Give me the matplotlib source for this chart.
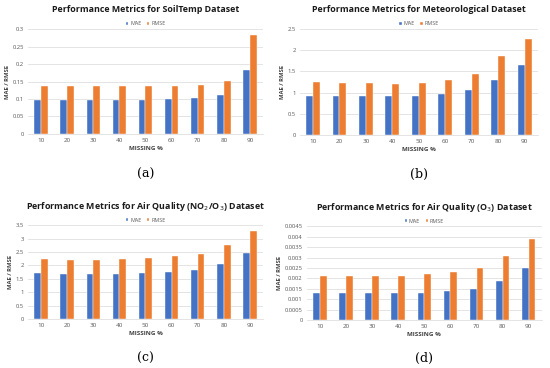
import matplotlib.pyplot as plt
import numpy as np

missing = ["10", "20", "30", "40", "50", "60", "70", "80", "90"]

soil_mae = [0.096, 0.096, 0.096, 0.097, 0.097, 0.099, 0.102, 0.112, 0.182]
soil_rmse = [0.137, 0.137, 0.137, 0.137, 0.137, 0.138, 0.141, 0.152, 0.284]

met_mae = [0.93, 0.92, 0.91, 0.91, 0.92, 0.97, 1.07, 1.29, 1.66]
met_rmse = [1.24, 1.23, 1.22, 1.21, 1.23, 1.30, 1.44, 1.86, 2.27]

no2_mae = [1.70, 1.69, 1.69, 1.69, 1.71, 1.75, 1.82, 2.06, 2.47]
no2_rmse = [2.23, 2.22, 2.22, 2.23, 2.27, 2.35, 2.44, 2.75, 3.27]

o3_mae = [0.0013, 0.0013, 0.0013, 0.0013, 0.0013, 0.0014, 0.0015, 0.0019, 0.0025]
o3_rmse = [0.0021, 0.0021, 0.0021, 0.0021, 0.0022, 0.0023, 0.0025, 0.0031, 0.0039]

MAE_COLOR = "#4472C4"
RMSE_COLOR = "#ED7D31"
FONT = ["Open Sans", "DejaVu Sans"]


def fmt_tick(v):
    s = f"{v:.4f}".rstrip("0").rstrip(".")
    return s if s else "0"


def draw_panel(fig, rect, title, mae, rmse, ymax, ystep, caption):
    ax = fig.add_axes(rect)
    x = np.arange(len(missing))
    w = 0.26
    ax.bar(x - w / 2, mae, w, color=MAE_COLOR, edgecolor="white", linewidth=0.3, label="MAE", zorder=3)
    ax.bar(x + w / 2, rmse, w, color=RMSE_COLOR, edgecolor="white", linewidth=0.3, label="RMSE", zorder=3)

    ticks = np.arange(0, ymax + ystep / 2, ystep)
    ax.set_ylim(0, ymax)
    ax.set_yticks(ticks)
    ax.set_yticklabels([fmt_tick(t) for t in ticks], fontsize=4.2, color="#595959", family=FONT)
    ax.set_xticks(x)
    ax.set_xticklabels(missing, fontsize=4.5, color="#595959", family=FONT)
    ax.set_xlim(-0.5, len(missing) - 0.5)
    ax.tick_params(length=0, pad=3)
    ax.grid(axis="y", color="#D9D9D9", linewidth=0.5, zorder=0)
    for side in ["top", "right", "left"]:
        ax.spines[side].set_visible(False)
    ax.spines["bottom"].set_color("#D9D9D9")
    ax.spines["bottom"].set_linewidth(0.5)

    ax.set_xlabel("MISSING %", fontsize=4.5, fontweight="bold", color="#404040", family=FONT, labelpad=2)
    ax.set_ylabel("MAE / RMSE", fontsize=4.2, fontweight="bold", color="#404040", family=FONT, labelpad=2)
    ax.set_title(title, fontsize=6.4, fontweight="bold", color="#1a1a1a", family=FONT, pad=12)
    ax.legend(loc="lower center", bbox_to_anchor=(0.5, 1.0), ncol=2, frameon=False,
              prop={"family": FONT, "size": 3.9}, handlelength=0.5, handleheight=0.5,
              columnspacing=1.0, handletextpad=0.3, borderaxespad=0.1)
    for t in ax.get_legend().get_texts():
        t.set_color("#595959")
    fig.text(rect[0] + rect[2] / 2, caption[1], caption[0], ha="center", va="center",
             fontsize=9, family="DejaVu Serif")
    return ax


fig = plt.figure(figsize=(5.5, 3.68), dpi=100)

draw_panel(fig, [0.051, 0.636, 0.427, 0.285], "Performance Metrics for SoilTemp Dataset",
           soil_mae, soil_rmse, 0.3, 0.05, ("(a)", 1 - 174 / 368))
draw_panel(fig, [0.545, 0.633, 0.433, 0.288], "Performance Metrics for Meteorological Dataset",
           met_mae, met_rmse, 2.5, 0.5, ("(b)", 1 - 174 / 368))
draw_panel(fig, [0.051, 0.133, 0.427, 0.255], "Performance Metrics for Air Quality (NO$_2$/O$_3$) Dataset",
           no2_mae, no2_rmse, 3.5, 0.5, ("(c)", 1 - 358 / 368))
draw_panel(fig, [0.558, 0.130, 0.427, 0.255], "Performance Metrics for Air Quality (O$_3$) Dataset",
           o3_mae, o3_rmse, 0.0045, 0.0005, ("(d)", 1 - 358 / 368))

fig.savefig("out.png", dpi=100)
